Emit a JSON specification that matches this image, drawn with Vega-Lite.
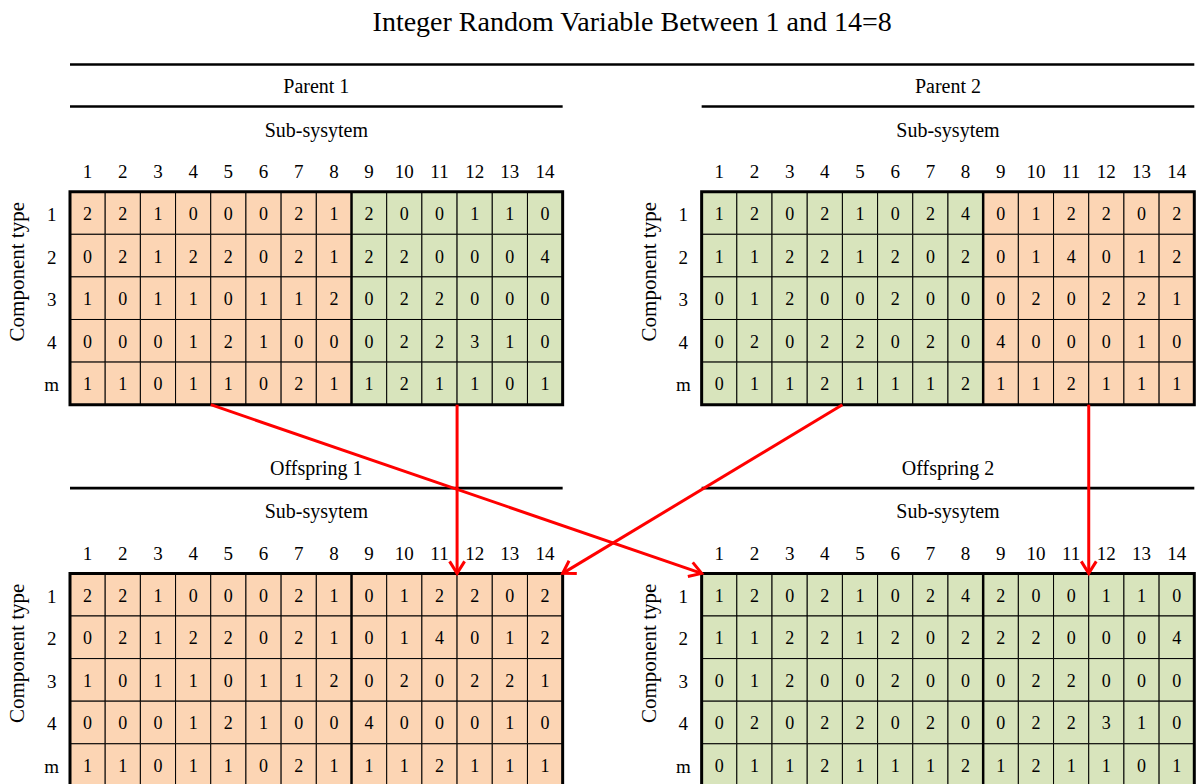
{
  "$schema": "https://vega.github.io/schema/vega-lite/v6.json",
  "width": 1198,
  "height": 784,
  "autosize": {"type": "fit", "contains": "padding"},
  "padding": 0,
  "background": "white",
  "config": {"view": {"stroke": null}, "font": "Liberation Serif", "text": {"font": "Liberation Serif", "color": "black"}},
  "datasets": {
    "grid": [
      {"p": "Parent 1", "r": "1", "c": [1,2,3,4,5,6,7,8,9,10,11,12,13,14], "v": [2,2,1,0,0,0,2,1,2,0,0,1,1,0]},
      {"p": "Parent 1", "r": "2", "c": [1,2,3,4,5,6,7,8,9,10,11,12,13,14], "v": [0,2,1,2,2,0,2,1,2,2,0,0,0,4]},
      {"p": "Parent 1", "r": "3", "c": [1,2,3,4,5,6,7,8,9,10,11,12,13,14], "v": [1,0,1,1,0,1,1,2,0,2,2,0,0,0]},
      {"p": "Parent 1", "r": "4", "c": [1,2,3,4,5,6,7,8,9,10,11,12,13,14], "v": [0,0,0,1,2,1,0,0,0,2,2,3,1,0]},
      {"p": "Parent 1", "r": "m", "c": [1,2,3,4,5,6,7,8,9,10,11,12,13,14], "v": [1,1,0,1,1,0,2,1,1,2,1,1,0,1]},
      {"p": "Parent 2", "r": "1", "c": [1,2,3,4,5,6,7,8,9,10,11,12,13,14], "v": [1,2,0,2,1,0,2,4,0,1,2,2,0,2]},
      {"p": "Parent 2", "r": "2", "c": [1,2,3,4,5,6,7,8,9,10,11,12,13,14], "v": [1,1,2,2,1,2,0,2,0,1,4,0,1,2]},
      {"p": "Parent 2", "r": "3", "c": [1,2,3,4,5,6,7,8,9,10,11,12,13,14], "v": [0,1,2,0,0,2,0,0,0,2,0,2,2,1]},
      {"p": "Parent 2", "r": "4", "c": [1,2,3,4,5,6,7,8,9,10,11,12,13,14], "v": [0,2,0,2,2,0,2,0,4,0,0,0,1,0]},
      {"p": "Parent 2", "r": "m", "c": [1,2,3,4,5,6,7,8,9,10,11,12,13,14], "v": [0,1,1,2,1,1,1,2,1,1,2,1,1,1]},
      {"p": "Offspring 1", "r": "1", "c": [1,2,3,4,5,6,7,8,9,10,11,12,13,14], "v": [2,2,1,0,0,0,2,1,0,1,2,2,0,2]},
      {"p": "Offspring 1", "r": "2", "c": [1,2,3,4,5,6,7,8,9,10,11,12,13,14], "v": [0,2,1,2,2,0,2,1,0,1,4,0,1,2]},
      {"p": "Offspring 1", "r": "3", "c": [1,2,3,4,5,6,7,8,9,10,11,12,13,14], "v": [1,0,1,1,0,1,1,2,0,2,0,2,2,1]},
      {"p": "Offspring 1", "r": "4", "c": [1,2,3,4,5,6,7,8,9,10,11,12,13,14], "v": [0,0,0,1,2,1,0,0,4,0,0,0,1,0]},
      {"p": "Offspring 1", "r": "m", "c": [1,2,3,4,5,6,7,8,9,10,11,12,13,14], "v": [1,1,0,1,1,0,2,1,1,1,2,1,1,1]},
      {"p": "Offspring 2", "r": "1", "c": [1,2,3,4,5,6,7,8,9,10,11,12,13,14], "v": [1,2,0,2,1,0,2,4,2,0,0,1,1,0]},
      {"p": "Offspring 2", "r": "2", "c": [1,2,3,4,5,6,7,8,9,10,11,12,13,14], "v": [1,1,2,2,1,2,0,2,2,2,0,0,0,4]},
      {"p": "Offspring 2", "r": "3", "c": [1,2,3,4,5,6,7,8,9,10,11,12,13,14], "v": [0,1,2,0,0,2,0,0,0,2,2,0,0,0]},
      {"p": "Offspring 2", "r": "4", "c": [1,2,3,4,5,6,7,8,9,10,11,12,13,14], "v": [0,2,0,2,2,0,2,0,0,2,2,3,1,0]},
      {"p": "Offspring 2", "r": "m", "c": [1,2,3,4,5,6,7,8,9,10,11,12,13,14], "v": [0,1,1,2,1,1,1,2,1,2,1,1,0,1]}
    ],
    "panels": [
      {"p": "Parent 1", "sub": "Sub-sysytem", "ytitle": "Component type"},
      {"p": "Parent 2", "sub": "Sub-sysytem", "ytitle": "Component type"},
      {"p": "Offspring 1", "sub": "Sub-sysytem", "ytitle": "Component type"},
      {"p": "Offspring 2", "sub": "Sub-sysytem", "ytitle": "Component type"}
    ],
    "arrows": [
      {"from": "Parent 1", "to": "Offspring 2", "c1": 4, "c2": 0},
      {"from": "Parent 1", "to": "Offspring 1", "c1": 11, "c2": 11},
      {"from": "Parent 2", "to": "Offspring 1", "c1": 4, "c2": 14},
      {"from": "Parent 2", "to": "Offspring 2", "c1": 11, "c2": 11}
    ],
    "heading": [
      {"text": "Integer Random Variable Between 1 and 14=8"}
    ]
  },
  "layer": [
    {
      "data": {"name": "grid"},
      "transform": [
        {"flatten": ["c", "v"]},
        {"calculate": "indexof(datum.p, '2') >= 0 ? 17.95 : 0", "as": "xo"},
        {"calculate": "indexof(datum.p, 'Offspring') == 0 ? 8.96 : 0", "as": "yo"},
        {"calculate": "indexof(['1','2','3','4','m'], datum.r)", "as": "ri"},
        {"calculate": "datum.xo + datum.c - 1", "as": "x0"},
        {"calculate": "datum.x0 + 1", "as": "x1"},
        {"calculate": "datum.yo + datum.ri", "as": "y0"},
        {"calculate": "datum.y0 + 1", "as": "y1"},
        {"calculate": "datum.p == 'Offspring 1' ? 'A' : datum.p == 'Offspring 2' ? 'B' : ((datum.p == 'Parent 1') == (datum.c <= 8) ? 'A' : 'B')", "as": "grp"}
      ],
      "mark": {"type": "rect", "stroke": "black", "strokeWidth": 1, "clip": true},
      "encoding": {
        "x": {"field": "x0", "type": "quantitative", "axis": null, "scale": {"domain": [-1.9892, 32.055], "nice": false, "zero": false}},
        "x2": {"field": "x1"},
        "y": {"field": "y0", "type": "quantitative", "axis": null, "scale": {"domain": [-4.5, 13.904], "nice": false, "zero": false, "reverse": true}},
        "y2": {"field": "y1"},
        "fill": {"field": "grp", "type": "nominal", "legend": null, "scale": {"domain": ["A", "B"], "range": ["#FCD5B4", "#D8E4BC"]}}
      }
    },
    {
      "data": {"name": "grid"},
      "transform": [
        {"flatten": ["c", "v"]},
        {"calculate": "indexof(datum.p, '2') >= 0 ? 17.95 : 0", "as": "xo"},
        {"calculate": "indexof(datum.p, 'Offspring') == 0 ? 8.96 : 0", "as": "yo"},
        {"calculate": "indexof(['1','2','3','4','m'], datum.r)", "as": "ri"},
        {"calculate": "datum.xo + datum.c - 0.5", "as": "xc"},
        {"calculate": "datum.yo + datum.ri + 0.5", "as": "yc"}
      ],
      "mark": {"type": "text", "fontSize": 18, "align": "center", "baseline": "middle", "dy": 2, "font": "Liberation Serif", "clip": true},
      "encoding": {
        "x": {"field": "xc", "type": "quantitative", "axis": null, "scale": {"domain": [-1.9892, 32.055], "nice": false, "zero": false}},
        "y": {"field": "yc", "type": "quantitative", "axis": null, "scale": {"domain": [-4.5, 13.904], "nice": false, "zero": false, "reverse": true}},
        "text": {"field": "v", "type": "quantitative"}
      }
    },
    {
      "data": {"name": "grid"},
      "transform": [
        {"flatten": ["c", "v"]},
        {"filter": "datum.r == '1'"},
        {"calculate": "indexof(datum.p, '2') >= 0 ? 17.95 : 0", "as": "xo"},
        {"calculate": "indexof(datum.p, 'Offspring') == 0 ? 8.96 : 0", "as": "yo"},
        {"calculate": "datum.xo + datum.c - 0.5", "as": "xc"},
        {"calculate": "datum.yo - 0.32", "as": "yl"}
      ],
      "mark": {"type": "text", "fontSize": 19, "align": "center", "baseline": "alphabetic", "font": "Liberation Serif", "clip": true},
      "encoding": {
        "x": {"field": "xc", "type": "quantitative", "axis": null, "scale": {"domain": [-1.9892, 32.055], "nice": false, "zero": false}},
        "y": {"field": "yl", "type": "quantitative", "axis": null, "scale": {"domain": [-4.5, 13.904], "nice": false, "zero": false, "reverse": true}},
        "text": {"field": "c", "type": "quantitative"}
      }
    },
    {
      "data": {"name": "grid"},
      "transform": [
        {"flatten": ["c", "v"]},
        {"filter": "datum.c == 1"},
        {"calculate": "indexof(datum.p, '2') >= 0 ? 17.95 : 0", "as": "xo"},
        {"calculate": "indexof(datum.p, 'Offspring') == 0 ? 8.96 : 0", "as": "yo"},
        {"calculate": "indexof(['1','2','3','4','m'], datum.r)", "as": "ri"},
        {"calculate": "datum.xo - 0.52", "as": "xl"},
        {"calculate": "datum.yo + datum.ri + 0.5", "as": "yc"}
      ],
      "mark": {"type": "text", "fontSize": 19, "align": "center", "baseline": "middle", "dy": 2, "font": "Liberation Serif", "clip": true},
      "encoding": {
        "x": {"field": "xl", "type": "quantitative", "axis": null, "scale": {"domain": [-1.9892, 32.055], "nice": false, "zero": false}},
        "y": {"field": "yc", "type": "quantitative", "axis": null, "scale": {"domain": [-4.5, 13.904], "nice": false, "zero": false, "reverse": true}},
        "text": {"field": "r", "type": "nominal"}
      }
    },
    {
      "data": {"name": "panels"},
      "transform": [
        {"calculate": "indexof(datum.p, '2') >= 0 ? 17.95 : 0", "as": "xo"},
        {"calculate": "indexof(datum.p, 'Offspring') == 0 ? 8.96 : 0", "as": "yo"},
        {"calculate": "datum.xo + 14", "as": "xe"},
        {"calculate": "datum.yo + 5", "as": "ye"}
      ],
      "mark": {"type": "rect", "filled": false, "stroke": "black", "strokeWidth": 3, "clip": true},
      "encoding": {
        "x": {"field": "xo", "type": "quantitative", "axis": null, "scale": {"domain": [-1.9892, 32.055], "nice": false, "zero": false}},
        "x2": {"field": "xe"},
        "y": {"field": "yo", "type": "quantitative", "axis": null, "scale": {"domain": [-4.5, 13.904], "nice": false, "zero": false, "reverse": true}},
        "y2": {"field": "ye"}
      }
    },
    {
      "data": {"name": "panels"},
      "transform": [
        {"calculate": "indexof(datum.p, '2') >= 0 ? 17.95 : 0", "as": "xo"},
        {"calculate": "indexof(datum.p, 'Offspring') == 0 ? 8.96 : 0", "as": "yo"},
        {"calculate": "datum.xo + 8", "as": "xm"},
        {"calculate": "datum.yo + 5", "as": "ye"}
      ],
      "mark": {"type": "rule", "stroke": "black", "strokeWidth": 2.5, "clip": true},
      "encoding": {
        "x": {"field": "xm", "type": "quantitative", "axis": null, "scale": {"domain": [-1.9892, 32.055], "nice": false, "zero": false}},
        "y": {"field": "yo", "type": "quantitative", "axis": null, "scale": {"domain": [-4.5, 13.904], "nice": false, "zero": false, "reverse": true}},
        "y2": {"field": "ye"}
      }
    },
    {
      "data": {"name": "panels"},
      "transform": [
        {"calculate": "indexof(datum.p, '2') >= 0 ? 17.95 : 0", "as": "xo"},
        {"calculate": "indexof(datum.p, 'Offspring') == 0 ? 8.96 : 0", "as": "yo"},
        {"calculate": "datum.xo + 14", "as": "xe"},
        {"calculate": "datum.yo - 2.0", "as": "yu"}
      ],
      "mark": {"type": "rule", "stroke": "black", "strokeWidth": 2.7, "clip": true},
      "encoding": {
        "x": {"field": "xo", "type": "quantitative", "axis": null, "scale": {"domain": [-1.9892, 32.055], "nice": false, "zero": false}},
        "x2": {"field": "xe"},
        "y": {"field": "yu", "type": "quantitative", "axis": null, "scale": {"domain": [-4.5, 13.904], "nice": false, "zero": false, "reverse": true}}
      }
    },
    {
      "data": {"name": "panels"},
      "transform": [
        {"calculate": "indexof(datum.p, '2') >= 0 ? 17.95 : 0", "as": "xo"},
        {"calculate": "indexof(datum.p, 'Offspring') == 0 ? 8.96 : 0", "as": "yo"},
        {"calculate": "datum.xo + 7", "as": "xc"},
        {"calculate": "datum.yo - 2.31", "as": "yt"}
      ],
      "mark": {"type": "text", "fontSize": 20, "align": "center", "baseline": "alphabetic", "font": "Liberation Serif", "clip": true},
      "encoding": {
        "x": {"field": "xc", "type": "quantitative", "axis": null, "scale": {"domain": [-1.9892, 32.055], "nice": false, "zero": false}},
        "y": {"field": "yt", "type": "quantitative", "axis": null, "scale": {"domain": [-4.5, 13.904], "nice": false, "zero": false, "reverse": true}},
        "text": {"field": "p", "type": "nominal"}
      }
    },
    {
      "data": {"name": "panels"},
      "transform": [
        {"calculate": "indexof(datum.p, '2') >= 0 ? 17.95 : 0", "as": "xo"},
        {"calculate": "indexof(datum.p, 'Offspring') == 0 ? 8.96 : 0", "as": "yo"},
        {"calculate": "datum.xo + 7", "as": "xc"},
        {"calculate": "datum.yo - 1.29", "as": "ys"}
      ],
      "mark": {"type": "text", "fontSize": 20, "align": "center", "baseline": "alphabetic", "font": "Liberation Serif", "clip": true},
      "encoding": {
        "x": {"field": "xc", "type": "quantitative", "axis": null, "scale": {"domain": [-1.9892, 32.055], "nice": false, "zero": false}},
        "y": {"field": "ys", "type": "quantitative", "axis": null, "scale": {"domain": [-4.5, 13.904], "nice": false, "zero": false, "reverse": true}},
        "text": {"field": "sub", "type": "nominal"}
      }
    },
    {
      "data": {"name": "panels"},
      "transform": [
        {"calculate": "indexof(datum.p, '2') >= 0 ? 17.95 : 0", "as": "xo"},
        {"calculate": "indexof(datum.p, 'Offspring') == 0 ? 8.96 : 0", "as": "yo"},
        {"calculate": "datum.xo - 1.478", "as": "xy"},
        {"calculate": "datum.yo + 1.878", "as": "yy"}
      ],
      "mark": {"type": "text", "fontSize": 21, "align": "center", "baseline": "middle", "angle": 270, "font": "Liberation Serif", "clip": true},
      "encoding": {
        "x": {"field": "xy", "type": "quantitative", "axis": null, "scale": {"domain": [-1.9892, 32.055], "nice": false, "zero": false}},
        "y": {"field": "yy", "type": "quantitative", "axis": null, "scale": {"domain": [-4.5, 13.904], "nice": false, "zero": false, "reverse": true}},
        "text": {"field": "ytitle", "type": "nominal"}
      }
    },
    {
      "data": {"name": "heading"},
      "mark": {"type": "rule", "stroke": "black", "strokeWidth": 2.7, "clip": true},
      "encoding": {
        "x": {"datum": 0, "type": "quantitative", "axis": null, "scale": {"domain": [-1.9892, 32.055], "nice": false, "zero": false}},
        "x2": {"datum": 31.95},
        "y": {"datum": -2.986, "type": "quantitative", "axis": null, "scale": {"domain": [-4.5, 13.904], "nice": false, "zero": false, "reverse": true}}
      }
    },
    {
      "data": {"name": "heading"},
      "mark": {"type": "text", "fontSize": 28, "align": "center", "baseline": "alphabetic", "font": "Liberation Serif", "clip": true},
      "encoding": {
        "x": {"datum": 15.975, "type": "quantitative", "axis": null, "scale": {"domain": [-1.9892, 32.055], "nice": false, "zero": false}},
        "y": {"datum": -3.78, "type": "quantitative", "axis": null, "scale": {"domain": [-4.5, 13.904], "nice": false, "zero": false, "reverse": true}},
        "text": {"field": "text", "type": "nominal"}
      }
    },
    {
      "data": {"name": "arrows"},
      "transform": [
        {"calculate": "datum.c1 + (indexof(datum.from, '2') >= 0 ? 17.95 : 0)", "as": "xs"},
        {"calculate": "5", "as": "ys"},
        {"calculate": "datum.c2 + (indexof(datum.to, '2') >= 0 ? 17.95 : 0)", "as": "xt"},
        {"calculate": "8.96", "as": "yt"}
      ],
      "mark": {"type": "rule", "stroke": "#FF0000", "strokeWidth": 3, "clip": true},
      "encoding": {
        "x": {"field": "xs", "type": "quantitative", "axis": null, "scale": {"domain": [-1.9892, 32.055], "nice": false, "zero": false}},
        "y": {"field": "ys", "type": "quantitative", "axis": null, "scale": {"domain": [-4.5, 13.904], "nice": false, "zero": false, "reverse": true}},
        "x2": {"field": "xt"},
        "y2": {"field": "yt"}
      }
    },
    {
      "data": {"name": "arrows"},
      "transform": [
        {"calculate": "datum.c1 + (indexof(datum.from, '2') >= 0 ? 17.95 : 0)", "as": "xs"},
        {"calculate": "datum.c2 + (indexof(datum.to, '2') >= 0 ? 17.95 : 0)", "as": "xt"},
        {"calculate": "8.96", "as": "yt"},
        {"calculate": "atan2((datum.yt - 5) * 42.6, (datum.xt - datum.xs) * 35.19) * 180 / PI - 90", "as": "ang"}
      ],
      "mark": {"type": "point", "shape": "M -0.625 -1 L 0 0 L 0.625 -1", "filled": false, "stroke": "#FF0000", "strokeWidth": 3, "size": 576, "opacity": 1, "strokeJoin": "miter", "strokeCap": "butt", "clip": true},
      "encoding": {
        "x": {"field": "xt", "type": "quantitative", "axis": null, "scale": {"domain": [-1.9892, 32.055], "nice": false, "zero": false}},
        "y": {"field": "yt", "type": "quantitative", "axis": null, "scale": {"domain": [-4.5, 13.904], "nice": false, "zero": false, "reverse": true}},
        "angle": {"field": "ang", "type": "quantitative", "scale": null}
      }
    }
  ]
}
